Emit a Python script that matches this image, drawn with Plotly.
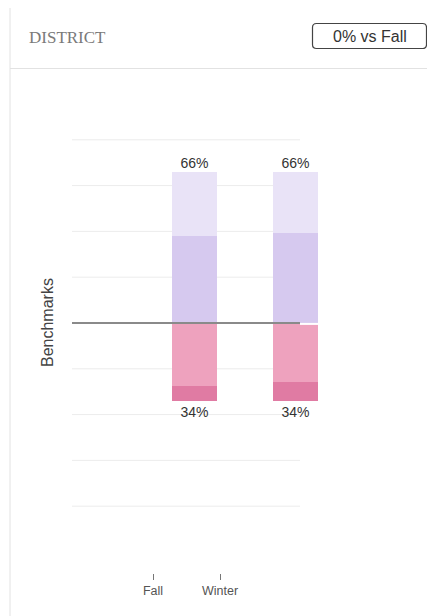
import plotly.graph_objects as go

# ---- data ----
seasons = ["Fall", "Winter"]
above_top = [28, 27]        # lightest lavender segment (%)
above_mid = [38, 39]        # lavender segment (%)
below_mid = [-27.5, -26]    # pink segment (%)
below_low = [-6.5, -8]      # dark pink segment (%)
grid_vals = [-80, -60, -40, -20, 0, 20, 40, 60, 80]
title_text = "DISTRICT"
badge_text = "0% vs Fall"
axis_title = "Benchmarks"

OFF = 8  # page body margin
W, H = 435 - OFF, 616 - OFF
def px(x):
    return (x - OFF) / W
def py(y):
    return (H - (y - OFF)) / H

# y scale: 0 at pixel 323, 2.29 px per %
Y0, K = 323.0, 2.29
YR = [-92, 92]
ydom = [py(Y0 + K * 92), py(Y0 - K * 92)]

pos_tot = [a + b for a, b in zip(above_top, above_mid)]
neg_tot = [a + b for a, b in zip(below_mid, below_low)]

fig = go.Figure()

colors = ["#d6c9ef", "#e9e3f7", "#eea2be", "#e07ba3"]
for vals, c in zip([above_mid, above_top, below_mid, below_low], colors):
    fig.add_trace(go.Bar(x=seasons, y=vals, marker=dict(color=c, line=dict(width=0)),
                         width=0.446, showlegend=False, hoverinfo="skip"))

fig.add_trace(go.Scatter(x=seasons, y=pos_tot, mode="text",
                         text=[f"{round(v)}%" for v in pos_tot], textposition="top center",
                         textfont=dict(size=14, color="#333", family="Liberation Sans"),
                         showlegend=False, hoverinfo="skip"))
fig.add_trace(go.Scatter(x=seasons, y=neg_tot, mode="markers+text",
                         marker=dict(size=8, opacity=0),
                         text=[f"{round(-v)}%" for v in neg_tot], textposition="bottom center",
                         textfont=dict(size=14, color="#333", family="Liberation Sans"),
                         showlegend=False, hoverinfo="skip"))

# axis carrying the season labels
fig.add_trace(go.Scatter(x=seasons, y=[None, None], mode="markers",
                         xaxis="x3", yaxis="y", showlegend=False, hoverinfo="skip"))

fig.update_layout(
    width=W, height=H, margin=dict(l=0, r=0, t=0, b=0),
    paper_bgcolor="white", plot_bgcolor="rgba(0,0,0,0)",
    barmode="relative", bargap=0,
    xaxis=dict(domain=[px(144), px(346)], range=[-0.5, 1.5], type="category",
               categoryarray=seasons, visible=False, fixedrange=True),
    yaxis=dict(domain=ydom, range=YR, showgrid=False, zeroline=False, visible=False),
    xaxis3=dict(domain=[px(119.5), px(253.5)], range=[-0.5, 1.5], type="category",
                categoryarray=seasons, anchor="free", position=py(580),
                side="bottom", showgrid=False, zeroline=False, showline=False,
                ticks="inside", ticklen=6, tickcolor="#777", tickwidth=1,
                tickfont=dict(size=12.5, color="#555", family="Liberation Sans"),
                ticklabelstandoff=1),
)

shapes = []
# card border
shapes.append(dict(type="rect", xref="paper", yref="paper", x0=px(10), x1=px(434),
                   y0=py(640), y1=py(4), line=dict(color="#e2e2e2", width=1),
                   fillcolor="rgba(0,0,0,0)", layer="below"))
# header separator
shapes.append(dict(type="line", xref="paper", yref="paper", x0=px(10), x1=px(435),
                   y0=py(68.5), y1=py(68.5), line=dict(color="#e2e2e2", width=1)))
# badge rounded rect
x0, x1, y0, y1, r = 312.5, 426.5, 23.5, 48.5, 4
path = (f"M {px(x0 + r)},{py(y0)} L {px(x1 - r)},{py(y0)} "
        f"Q {px(x1)},{py(y0)} {px(x1)},{py(y0 + r)} L {px(x1)},{py(y1 - r)} "
        f"Q {px(x1)},{py(y1)} {px(x1 - r)},{py(y1)} L {px(x0 + r)},{py(y1)} "
        f"Q {px(x0)},{py(y1)} {px(x0)},{py(y1 - r)} L {px(x0)},{py(y0 + r)} "
        f"Q {px(x0)},{py(y0)} {px(x0 + r)},{py(y0)} Z")
shapes.append(dict(type="path", xref="paper", yref="paper", path=path,
                   line=dict(color="#444", width=1.2)))
# gridlines (below bars)
for g in grid_vals:
    if g == 0:
        continue
    shapes.append(dict(type="line", xref="paper", yref="y", x0=px(72), x1=px(300),
                       y0=g, y1=g, line=dict(color="#ececec", width=1), layer="below"))
# white gap at benchmark on the part of the bar past the line, then benchmark line
shapes.append(dict(type="line", xref="paper", yref="y", x0=px(300), x1=px(330),
                   y0=-0.4, y1=-0.4, line=dict(color="white", width=2), layer="above"))
shapes.append(dict(type="line", xref="paper", yref="y", x0=px(72), x1=px(300),
                   y0=0, y1=0, line=dict(color="#8a8a8a", width=2), layer="above"))
fig.update_layout(shapes=shapes)

fig.add_annotation(x=px(27), y=py(37), xref="paper", yref="paper", text=title_text,
                   showarrow=False, xanchor="left", yanchor="middle",
                   font=dict(size=17, color="#7a7a7a", family="Liberation Serif"))
fig.add_annotation(x=px(369.5), y=py(36.5), xref="paper", yref="paper", text=badge_text,
                   showarrow=False, xanchor="center", yanchor="middle",
                   font=dict(size=16, color="#333", family="Liberation Sans"))
fig.add_annotation(x=px(47), y=py(323), xref="paper", yref="paper", text=axis_title,
                   showarrow=False, textangle=-90, xanchor="center", yanchor="middle",
                   font=dict(size=16, color="#444", family="Liberation Sans"))

fig.write_html("out.html")
